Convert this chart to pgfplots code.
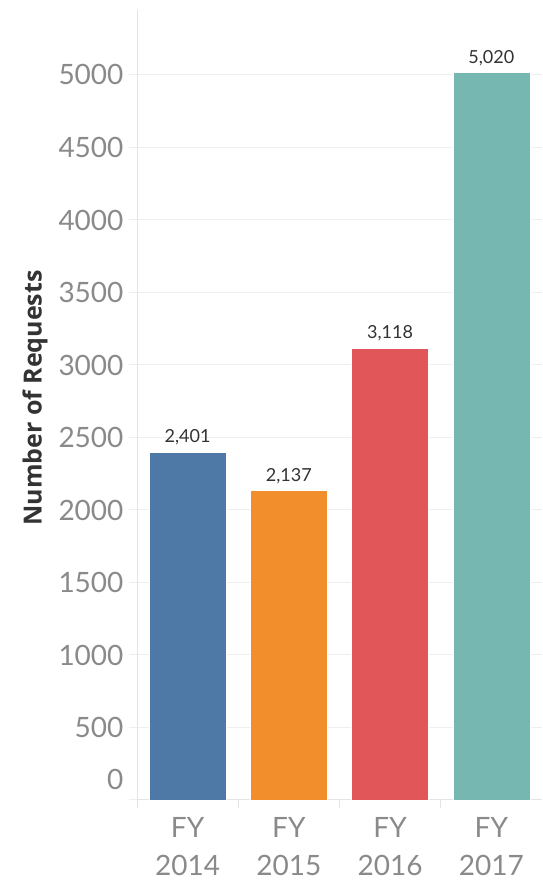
\documentclass[border=0pt]{standalone}
\usepackage{fontspec}
\setmainfont{Lato}
\newfontfamily\osans{Open Sans}
\usepackage{pgfplots}
\pgfplotsset{compat=1.18}
\definecolor{cblue}{HTML}{4E79A7}
\definecolor{corange}{HTML}{F28E2B}
\definecolor{cred}{HTML}{E15759}
\definecolor{cteal}{HTML}{76B7B2}
\definecolor{gridc}{HTML}{EFEFEF}
\definecolor{axisc}{HTML}{E4E4E4}
\definecolor{tickc}{HTML}{8A8A8A}
\definecolor{labc}{HTML}{333333}
\begin{document}
\begin{tikzpicture}
\path[use as bounding box] (0,0) rectangle (542pt,881pt);
\begin{axis}[
  at={(137pt,81pt)}, anchor=south west,
  scale only axis, width=405pt, height=790pt,
  xmin=-0.5, xmax=3.5, ymin=0, ymax=5448,
  ybar, bar width=77pt,
  axis x line*=bottom, axis y line*=left,
  axis line style={draw=axisc, line width=1pt},
  ytick={500,1000,...,5000},
  extra y ticks={0}, extra y tick labels={0},
  extra y tick style={yticklabel style={yshift=21pt}, grid=none},
  ymajorgrids, grid style={draw=gridc, line width=1pt},
  ytick style={draw=gridc, line width=1pt},
  tick align=outside, major tick length=8pt,
  /pgf/number format/assume math mode=true,
  /pgf/number format/1000 sep={},
  yticklabel style={font=\fontsize{28}{32}\selectfont, text=tickc, xshift=-2pt},
  xtick={0,1,2,3},
  xticklabels={{FY\\2014},{FY\\2015},{FY\\2016},{FY\\2017}},
  xticklabel style={font=\fontsize{28}{38}\selectfont, text=tickc, align=center, yshift=-6pt},
  x tick style={draw=none},
  extra x ticks={-0.5,0.5,1.5,2.5}, extra x tick labels={},
  extra x tick style={x tick style={draw=axisc, line width=1pt}, major tick length=8pt},
  ylabel={Number of Requests},
  ylabel style={at={(axis description cs:0,0.5)}, anchor=center, rotate=0, xshift=7pt, yshift=102pt, font=\osans\bfseries\fontsize{25}{28}\selectfont, text=labc},
  nodes near coords,
  every node near coord/.append style={anchor=base, yshift=9pt, inner sep=0pt, font=\fontsize{18}{20}\selectfont, text=labc, /pgf/number format/1000 sep={,}},
  clip=false,
]
\addplot[fill=cblue, draw=white, line width=0.4pt, bar shift=0pt] coordinates {(0,2401)};
\addplot[fill=corange, draw=white, line width=0.4pt, bar shift=0pt] coordinates {(1,2137)};
\addplot[fill=cred, draw=white, line width=0.4pt, bar shift=0pt] coordinates {(2,3118)};
\addplot[fill=cteal, draw=white, line width=0.4pt, bar shift=0pt] coordinates {(3,5020)};
\end{axis}
\end{tikzpicture}
\end{document}
